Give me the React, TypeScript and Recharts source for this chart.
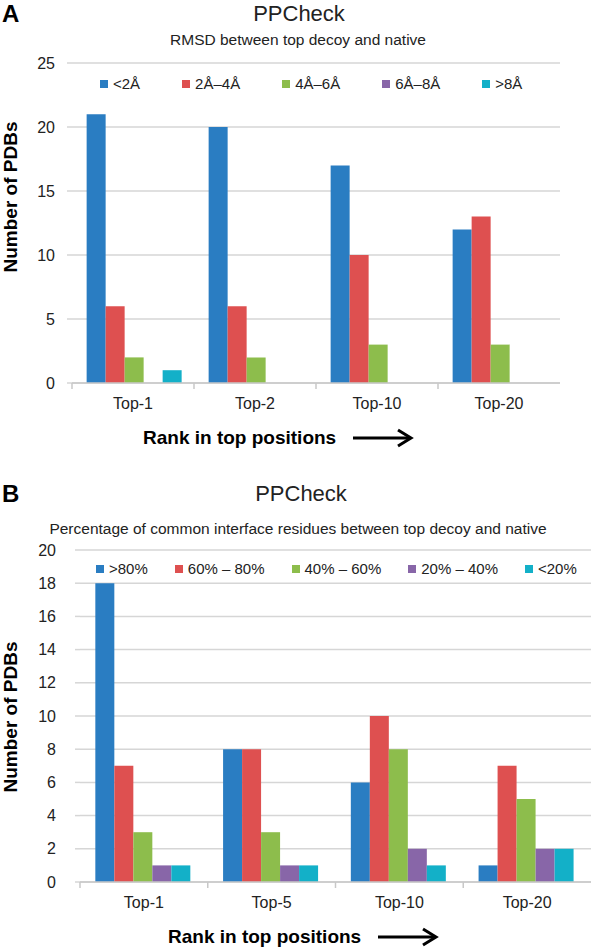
import { BarChart, Bar, XAxis, YAxis, CartesianGrid } from "recharts";

// Panel A: RMSD between top decoy and native
const rmsdRanks = ["Top-1", "Top-2", "Top-10", "Top-20"];
const rmsdBelow2 = [21, 20, 17, 12];
const rmsd2to4 = [6, 6, 10, 13];
const rmsd4to6 = [2, 2, 3, 3];
const rmsd6to8 = [0, 0, 0, 0];
const rmsdAbove8 = [1, 0, 0, 0];
const rmsdTicks = [0, 5, 10, 15, 20, 25];

// Panel B: percentage of common interface residues
const pctRanks = ["Top-1", "Top-5", "Top-10", "Top-20"];
const pctAbove80 = [18, 8, 6, 1];
const pct60to80 = [7, 8, 10, 7];
const pct40to60 = [3, 3, 8, 5];
const pct20to40 = [1, 1, 2, 2];
const pctBelow20 = [1, 1, 1, 2];
const pctTicks = [0, 2, 4, 6, 8, 10, 12, 14, 16, 18, 20];

const colors = ["#2a7dc2", "#de5050", "#8dbd4c", "#8866a8", "#13b0c8"];

const rmsdSeries = [
  { key: "s0", name: "<2Å", values: rmsdBelow2 },
  { key: "s1", name: "2Å–4Å", values: rmsd2to4 },
  { key: "s2", name: "4Å–6Å", values: rmsd4to6 },
  { key: "s3", name: "6Å–8Å", values: rmsd6to8 },
  { key: "s4", name: ">8Å", values: rmsdAbove8 },
];

const pctSeries = [
  { key: "s0", name: ">80%", values: pctAbove80 },
  { key: "s1", name: "60% – 80%", values: pct60to80 },
  { key: "s2", name: "40% – 60%", values: pct40to60 },
  { key: "s3", name: "20% – 40%", values: pct20to40 },
  { key: "s4", name: "<20%", values: pctBelow20 },
];

const buildRows = (cats: string[], series: { key: string; values: number[] }[]) =>
  cats.map((c, i) => {
    const row: Record<string, string | number> = { rank: c };
    series.forEach((s) => (row[s.key] = s.values[i]));
    return row;
  });

const rmsdData = buildRows(rmsdRanks, rmsdSeries);
const pctData = buildRows(pctRanks, pctSeries);

const font = "'Liberation Sans', Arial, sans-serif";
const gridColor = "#d6d6d6";
const axisColor = "#c8c8c8";
const textColor = "#222";

const CategoryTick = (props: any) => {
  const { x, y, payload, band } = props;
  const half = payload && typeof payload.offset === "number" && payload.offset > 0 ? payload.offset : band / 2;
  return (
    <g>
      <line x1={x - half} x2={x - half} y1={y} y2={y + 6} stroke={axisColor} strokeWidth={1.5} />
      <text x={x} y={y + 26} textAnchor="middle" fontSize={16} fontFamily={font} fill={textColor}>
        {payload.value}
      </text>
    </g>
  );
};

const Arrow = () => (
  <svg width={62} height={20} style={{ verticalAlign: "middle", marginLeft: 16 }}>
    <line x1={1} y1={10} x2={58} y2={10} stroke="#000" strokeWidth={3} />
    <polyline points="46,2 59,10 46,18" fill="none" stroke="#000" strokeWidth={3} />
  </svg>
);

type PanelProps = {
  top: number;
  letter: string;
  subtitle: string;
  subtitleTop: number;
  data: Record<string, string | number>[];
  series: { key: string; name: string }[];
  ticks: number[];
  max: number;
  height: number;
  margin: { top: number; right: number; left: number; bottom: number };
  band: number;
  tickMargin: number;
  legendTop: number;
  legendLeft: number;
  legendGap: number;
  yLabelCenter: number;
  xLabelLeft: number;
  xLabelTop: number;
};

function Panel(p: PanelProps) {
  return (
    <div style={{ position: "absolute", left: 0, top: p.top, width: 596, height: p.height, fontFamily: font }}>
      <div style={{ position: "absolute", left: 2, top: 2, fontSize: 24, fontWeight: "bold", lineHeight: 1, color: "#000" }}>
        {p.letter}
      </div>
      <div style={{ position: "absolute", left: 0, width: 596, top: 3, textAlign: "center", fontSize: 22, lineHeight: 1, color: textColor, paddingLeft: p.letter === "A" ? 2 : 6, boxSizing: "border-box" }}>
        PPCheck
      </div>
      <div style={{ position: "absolute", left: 0, width: 596, top: p.subtitleTop, textAlign: "center", fontSize: 15.5, lineHeight: 1, color: textColor, whiteSpace: "nowrap" }}>
        {p.subtitle}
      </div>
      <BarChart width={596} height={p.height} data={p.data} margin={p.margin} barCategoryGap="12%" barGap={0}>
        <CartesianGrid vertical={false} stroke={gridColor} strokeWidth={1.5} />
        <XAxis
          dataKey="rank"
          axisLine={{ stroke: axisColor, strokeWidth: 1.5 }}
          tickLine={false}
          tickSize={0}
          tickMargin={0}
          height={30}
          interval={0}
          tick={<CategoryTick band={p.band} />}
        />
        <YAxis
          domain={[0, p.max]}
          ticks={p.ticks}
          interval={0}
          width={30}
          axisLine={false}
          tickLine={{ stroke: gridColor, strokeWidth: 1.5 }}
          tickSize={5}
          tickMargin={p.tickMargin}
          tick={{ fontSize: 16, fill: textColor, fontFamily: font }}
        />
        {p.series.map((s, i) => (
          <Bar key={s.key} dataKey={s.key} name={s.name} fill={colors[i]} isAnimationActive={false} />
        ))}
      </BarChart>
      <div style={{ position: "absolute", left: p.legendLeft, top: p.legendTop, display: "flex", alignItems: "center", gap: p.legendGap, fontSize: 15, color: textColor, whiteSpace: "nowrap", lineHeight: 1 }}>
        {p.series.map((s, i) => (
          <div key={s.key} style={{ display: "flex", alignItems: "center" }}>
            <span style={{ display: "inline-block", width: 8, height: 8, background: colors[i], marginRight: 5 }} />
            <span>{s.name}</span>
          </div>
        ))}
      </div>
      <div style={{ position: "absolute", left: 11 - 120, top: p.yLabelCenter - 11, width: 240, height: 22, lineHeight: "22px", textAlign: "center", transform: "rotate(-90deg)", fontSize: 19, fontWeight: "bold", color: "#000" }}>
        Number of PDBs
      </div>
      <div style={{ position: "absolute", left: p.xLabelLeft, top: p.xLabelTop, fontSize: 19, fontWeight: "bold", color: "#000", whiteSpace: "nowrap", lineHeight: "22px", display: "flex", alignItems: "center" }}>
        <span>Rank in top positions</span>
        <Arrow />
      </div>
    </div>
  );
}

export default function App() {
  return (
    <div style={{ position: "absolute", left: 0, top: 0, width: 596, height: 948, background: "#fff" }}>
      <Panel
        top={0}
        letter="A"
        subtitle="RMSD between top decoy and native"
        subtitleTop={32}
        data={rmsdData}
        series={rmsdSeries}
        ticks={rmsdTicks}
        max={25}
        height={470}
        margin={{ top: 63, right: 36, left: 42, bottom: 57 }}
        band={122}
        tickMargin={12}
        legendTop={76}
        legendLeft={100}
        legendGap={42}
        yLabelCenter={197}
        xLabelLeft={143}
        xLabelTop={427}
      />
      <Panel
        top={480}
        letter="B"
        subtitle="Percentage of common interface residues between top decoy and native"
        subtitleTop={41}
        data={pctData}
        series={pctSeries}
        ticks={pctTicks}
        max={20}
        height={468}
        margin={{ top: 70, right: 5, left: 50, bottom: 36 }}
        band={128}
        tickMargin={19}
        legendTop={81}
        legendLeft={96}
        legendGap={27}
        yLabelCenter={237}
        xLabelLeft={168}
        xLabelTop={446}
      />
    </div>
  );
}
